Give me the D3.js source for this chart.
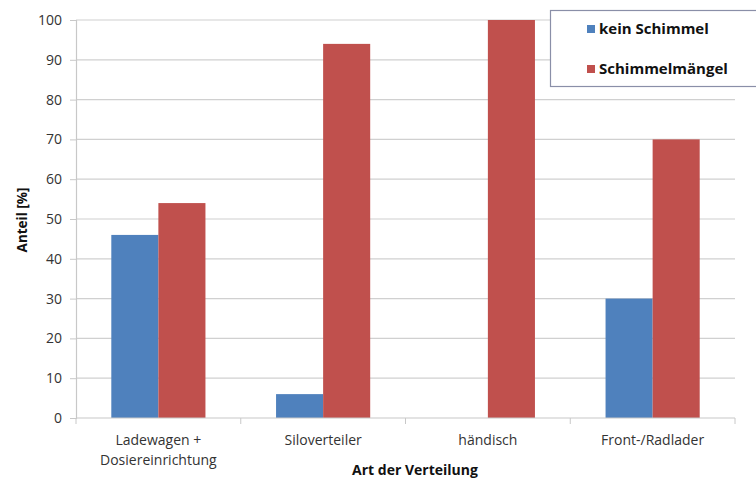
<!DOCTYPE html>
<html><head><meta charset="utf-8">
<script src="https://cdn.jsdelivr.net/npm/d3@7"></script>
<style>body{margin:0;background:#fff}svg{display:block}text{font-family:"Open Sans","DejaVu Sans",sans-serif}</style>
</head><body><svg id="c" width="756" height="482"></svg>
<script>
const categories = [["Ladewagen +","Dosiereinrichtung"],["Siloverteiler"],["händisch"],["Front-/Radlader"]];
const seriesNames = ["kein Schimmel","Schimmelmängel"];
const keinSchimmel = [46, 6, 0, 30];
const schimmelmaengel = [54, 94, 100, 70];
const yTicks = [0,10,20,30,40,50,60,70,80,90,100];
const colors = ["#4f81bd","#c0504d"];

const svg = d3.select("#c");
const L = 76, R = 735, T = 20, B = 418;
const x = d3.scaleBand().domain(d3.range(categories.length)).range([L, R]).paddingInner(0).paddingOuter(0);
const x1 = d3.scaleBand().domain([0,1]).range([0, x.bandwidth()]).paddingInner(0).paddingOuter(0.75);
const y = d3.scaleLinear().domain([0,100]).range([B, T]);

// gridlines
svg.append("g").selectAll("line").data(yTicks.filter(d=>d>0)).join("line")
  .attr("x1", L).attr("x2", R).attr("y1", d=>y(d)).attr("y2", d=>y(d))
  .attr("stroke", "#d0d0d0").attr("stroke-width", 1.2);

// y axis
const ya = svg.append("g").attr("transform", `translate(${L},0)`)
  .call(d3.axisLeft(y).tickValues(yTicks).tickSize(6).tickPadding(8));
ya.select(".domain").attr("stroke", "#c8c8c8").attr("stroke-width", 1.2);
ya.selectAll(".tick line").attr("stroke", "#c8c8c8");
ya.selectAll("text").attr("font-size", 14).attr("fill", "#333").attr("font-family", "Open Sans, sans-serif");

// bars
const series = [keinSchimmel, schimmelmaengel];
series.forEach((vals, si) => {
  svg.append("g").selectAll("rect").data(vals).join("rect")
    .attr("x", (d,i) => x(i) + x1(si))
    .attr("width", x1.bandwidth())
    .attr("y", d => y(d))
    .attr("height", d => y(0) - y(d))
    .attr("fill", colors[si]);
});

// x axis
const xa = svg.append("g").attr("transform", `translate(0,${B})`);
xa.append("line").attr("x1", L).attr("x2", R).attr("stroke", "#c8c8c8").attr("stroke-width", 1.2);
xa.selectAll("line.t").data(d3.range(categories.length+1)).join("line").attr("class","t")
  .attr("x1", i => L + i*x.bandwidth()).attr("x2", i => L + i*x.bandwidth())
  .attr("y1", 0).attr("y2", 6).attr("stroke", "#c8c8c8");
categories.forEach((lines, i) => {
  const t = xa.append("text").attr("text-anchor","middle").attr("font-size", 14).attr("fill","#333");
  lines.forEach((ln, j) => t.append("tspan").attr("x", x(i) + x.bandwidth()/2).attr("y", 27 + j*20).text(ln));
});

// axis titles
svg.append("text").attr("x", 415).attr("y", 475).attr("text-anchor","middle")
  .attr("font-size", 14).attr("font-weight","bold").attr("fill","#111").text("Art der Verteilung");
svg.append("text").attr("transform","translate(27,220) rotate(-90)").attr("text-anchor","middle")
  .attr("font-size", 13.5).attr("font-weight","bold").attr("fill","#111").text("Anteil [%]");

// legend
const lg = svg.append("g");
lg.append("rect").attr("x", 550.5).attr("y", 10.5).attr("width", 210).attr("height", 76)
  .attr("fill","#fff").attr("stroke","#8a8fa8").attr("stroke-width",1.2);
seriesNames.forEach((n, i) => {
  const yy = 29 + i*40;
  lg.append("rect").attr("x", 587).attr("y", yy-4).attr("width", 8).attr("height", 8).attr("fill", colors[i]);
  lg.append("text").attr("x", 599).attr("y", yy+5).attr("font-size", 15).attr("font-weight","bold")
    .attr("fill","#111").text(n);
});
</script></body></html>
